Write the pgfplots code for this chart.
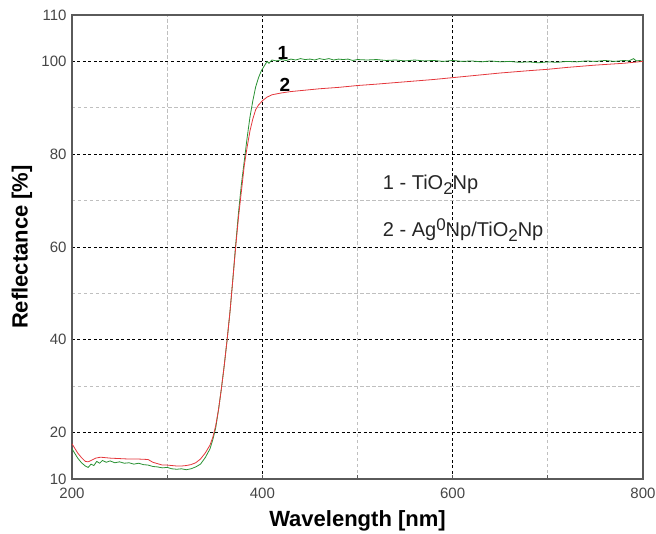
\documentclass[border=0pt]{standalone}
\usepackage{fontspec}
\setmainfont{Liberation Sans}
\usepackage{pgfplots}
\pgfplotsset{compat=1.18}

\definecolor{curvegreen}{RGB}{40,145,50}
\definecolor{curvered}{RGB}{228,55,60}
\definecolor{framegray}{RGB}{90,90,90}
\definecolor{ticktext}{RGB}{70,70,70}

\begin{document}
\begin{tikzpicture}
\useasboundingbox (-72pt,-54pt) rectangle (584pt,479pt);
\begin{axis}[
    scale only axis,
    width=571pt,
    height=464pt,
    xmin=200, xmax=800,
    ymin=10, ymax=110,
    xtick={400,600},
    extra x ticks={200,800},
    minor xtick={300,500,700},
    ytick={20,40,60,80,100},
    extra y ticks={10,110},
    minor ytick={30,50,70,90},
    extra tick style={grid=none},
    grid=both,
    major grid style={black, line width=0.7pt, dash pattern=on 3pt off 2.5pt},
    minor grid style={gray!50, line width=0.7pt, dash pattern=on 3.5pt off 2.5pt},
    axis line style={framegray, line width=1.1pt},
    tick align=inside,
    xtick pos=bottom,
    ytick style={draw=none},
    xtick style={framegray, line width=0.8pt},
    major tick length=4pt,
    minor tick length=4pt,
    /pgf/number format/assume math mode=true,
    tick label style={font=\fontsize{15}{17}\selectfont, text=ticktext},
    x tick label style={yshift=-5pt},
    y tick label style={xshift=-2pt},
    xlabel={\textbf{Wavelength [nm]}},
    ylabel={\textbf{Reflectance [\%]}},
    label style={font=\fontsize{22}{24}\selectfont},
    xlabel style={at={(axis description cs:0.5,-0.0905)}, anchor=center},
    ylabel style={at={(axis description cs:-0.0876,0.5)}, anchor=center},
]

% curve 1 - TiO2Np
\addplot[curvegreen, line width=0.8pt] coordinates {
(200,16.5)(203,15.5)(206,14.5)(210,13.5)(214,12.8)(217,12.5)(220,13.2)(223,12.9)
(226,13.8)(229,13.4)(232,14.0)(236,13.6)(240,13.9)(245,13.5)(250,13.7)(255,13.4)
(260,13.5)(265,13.2)(270,13.4)(275,13.1)(280,13.0)(285,12.7)(290,12.6)(295,12.4)
(300,12.5)(305,12.2)(310,12.1)(315,12.2)(320,12.0)(325,12.2)(330,12.6)(335,13.2)
(340,14.6)(345,16.5)(348,18.5)(351,21.0)(354,25.0)(357,29.5)(360,34.5)(363,40.0)
(366,46.0)(369,53.0)(372,60.5)(375,67.5)(378,73.5)(381,78.5)(384,83.5)(387,88.0)
(390,91.5)(393,94.5)(396,96.5)(399,98.0)(402,99.0)(405,100.0)(407,99.6)(410,100.3)
(415,100.1)(420,100.4)(425,100.2)(430,100.5)(435,100.3)(440,100.6)(445,100.4)(450,100.5)
(455,100.3)(460,100.6)(465,100.4)(470,100.6)(475,100.3)(480,100.5)(485,100.4)(490,100.5)
(495,100.2)(500,100.4)(510,100.3)(520,100.4)(530,100.2)(540,100.3)(550,100.1)(560,100.3)
(570,100.1)(580,100.2)(590,100.0)(600,100.2)(610,100.0)(620,100.1)(630,99.9)(640,100.1)
(650,99.9)(660,100.0)(670,99.8)(680,99.9)(690,99.7)(700,99.9)(710,99.8)(720,100.0)
(730,99.9)(740,100.1)(750,100.0)(760,100.2)(770,100.0)(780,100.2)(785,100.1)(790,100.6)
(793,100.1)(797,100.2)(800,99.9)
};

% curve 2 - Ag0Np/TiO2Np
\addplot[curvered, line width=0.8pt] coordinates {
(200,17.6)(203,16.6)(206,15.6)(210,14.6)(214,13.8)(217,13.7)(220,14.0)(225,14.5)
(230,14.7)(235,14.6)(240,14.5)(250,14.4)(260,14.3)(270,14.3)(280,14.2)(285,13.6)
(290,13.3)(295,13.0)(300,13.0)(305,12.9)(310,12.8)(315,12.8)(320,12.9)(325,13.1)
(330,13.5)(335,14.3)(340,15.6)(345,17.3)(348,19.0)(351,21.5)(354,25.0)(357,29.5)
(360,34.5)(363,40.0)(366,46.0)(369,53.0)(372,60.0)(375,66.5)(378,72.0)(381,77.5)
(384,81.5)(387,85.0)(390,87.6)(393,89.6)(396,90.6)(400,91.5)(405,92.3)(410,92.8)
(420,93.2)(430,93.5)(440,93.7)(460,94.1)(480,94.4)(500,94.8)(520,95.1)(550,95.6)
(580,96.1)(600,96.5)(620,96.9)(650,97.5)(680,98.0)(700,98.3)(720,98.7)(750,99.2)
(780,99.6)(790,99.8)(800,100.0)
};

\node[font=\bfseries\fontsize{19}{20}\selectfont] at (axis cs:421.5,101.8) {1};
\node[font=\bfseries\fontsize{19}{20}\selectfont] at (axis cs:423.6,94.9) {2};

\node[anchor=base west, font=\fontsize{20}{22}\selectfont, text=black!85]
    at (axis cs:523,72.3) {1 - TiO\raisebox{-5pt}{\fontsize{17}{17}\selectfont 2}Np};
\node[anchor=base west, font=\fontsize{20}{22}\selectfont, text=black!85]
    at (axis cs:523,62.2) {2 - Ag\raisebox{6pt}{\fontsize{17}{17}\selectfont 0}Np/TiO\raisebox{-5pt}{\fontsize{17}{17}\selectfont 2}Np};

\end{axis}
\end{tikzpicture}
\end{document}
